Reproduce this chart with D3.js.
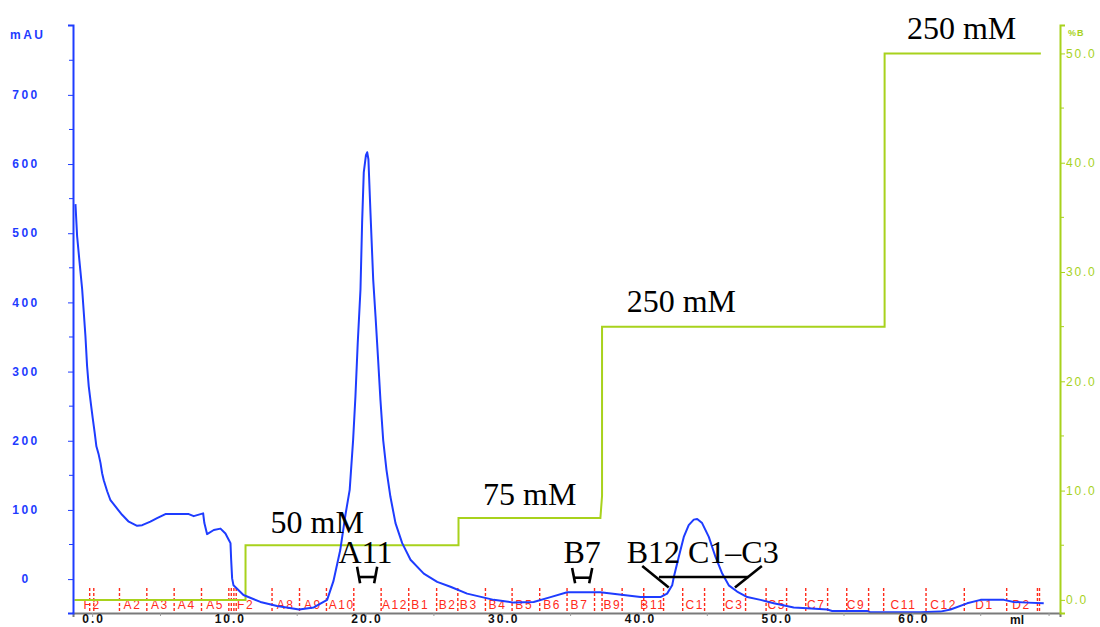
<!DOCTYPE html>
<html>
<head>
<meta charset="utf-8">
<script src="https://cdn.jsdelivr.net/npm/d3@7"></script>
<style>
  html, body { margin: 0; padding: 0; background: #ffffff; }
  svg { display: block; }
</style>
</head>
<body>
<svg id="chart" width="1100" height="627"></svg>
<script>
// UV absorbance trace (ml, mAU)
const uvTrace = [
  [-1.22, 542], [-1.10, 496], [-0.93, 460], [-0.73, 419], [-0.61, 385], [-0.49, 351],
  [-0.37, 308], [-0.25, 279], [-0.07, 250], [0.04, 233], [0.19, 211], [0.31, 192],
  [0.48, 180], [0.61, 168], [0.73, 153], [0.85, 143], [1.10, 127], [1.34, 114],
  [1.70, 105], [2.19, 93], [2.68, 83], [3.29, 77], [3.66, 78], [4.26, 83],
  [4.75, 88], [5.36, 94], [7.07, 94], [7.43, 91], [8.12, 95], [8.21, 81],
  [8.41, 65], [8.90, 71], [9.39, 73], [9.75, 66], [9.99, 57], [10.12, 52],
  [10.17, 28], [10.24, 1], [10.34, -9], [11.07, -23], [12.31, -33], [13.53, -39],
  [15.14, -44], [16.21, -41], [17.19, -30], [17.65, -3], [18.15, 42], [18.53, 93],
  [18.84, 129], [19.09, 201], [19.26, 264], [19.43, 342], [19.63, 419], [19.75, 516],
  [19.87, 588], [20.03, 613], [20.12, 617], [20.21, 607], [20.36, 530], [20.56, 433],
  [20.73, 380], [20.92, 317], [21.09, 259], [21.29, 201], [21.53, 158], [21.82, 119],
  [22.19, 81], [22.68, 52], [23.29, 28], [24.26, 8], [25.24, -4], [26.21, -11],
  [27.43, -21], [29.38, -30], [30.84, -34], [32.30, -33], [33.53, -26], [34.75, -19],
  [37.18, -19], [38.41, -22], [40.11, -26], [41.57, -26], [42.06, -21], [42.43, -9],
  [42.55, 3], [42.91, 32], [43.28, 61], [43.64, 78], [44.01, 86], [44.26, 87],
  [44.62, 81], [45.11, 61], [45.60, 32], [46.09, 8], [46.57, -9], [47.18, -18],
  [47.92, -26], [48.89, -30], [49.86, -35], [51.32, -41], [52.30, -42], [53.77, -44],
  [54.13, -46], [56.69, -46], [56.94, -48], [60.60, -48], [62.06, -47], [62.79, -44],
  [64.01, -35], [64.99, -30], [66.69, -30], [67.42, -33], [68.40, -34], [69.61, -35]
];

// Buffer B concentration (ml, %B)
const gradient = [
  [-1.3, 0], [11.22, 0], [11.22, 5], [26.8, 5], [26.8, 7.5], [37.18, 7.5],
  [37.3, 9.5], [37.3, 25], [57.97, 25], [57.97, 50], [69.4, 50]
];

// Fraction boundaries (ml)
const fractionEdges = [
  -0.18, 0.12, 2.0, 4.0, 6.0, 8.0, 10.0, 10.18, 10.37, 10.54,
  13.16, 15.17, 17.14, 19.14, 21.14, 23.16, 25.2, 26.75, 28.77, 30.72,
  32.74, 34.74, 36.75, 37.3, 38.77, 40.35, 41.8, 43.2, 44.8, 46.2,
  47.8, 49.3, 50.8, 52.2, 53.8, 55.2, 56.8, 57.9, 61.0, 63.8,
  66.9, 69.15, 69.3
];

// Fraction names and where they are printed (ml)
const fractionNames = ["F2", "A2", "A3", "A4", "A5", "F2", "A8", "A9", "A10", "A12",
  "B1", "B2", "B3", "B4", "B5", "B6", "B7", "B9", "B11", "C1", "C3",
  "C5", "C7", "C9", "C11", "C12", "D1", "D2"];
const fractionNameAt = [-0.63, 2.3, 4.3, 6.27, 8.34, 10.6, 13.5, 15.5, 17.3, 21.2,
  23.35, 25.35, 26.9, 29.0, 30.96, 33.0, 35.0, 37.4, 40.1, 43.4, 46.3,
  49.4, 52.3, 55.2, 58.4, 61.3, 64.6, 67.3];

// Axis ticks
const mAUTicks = [0, 100, 200, 300, 400, 500, 600, 700];
const mAUMinor = [50, 150, 250, 350, 450, 550, 650, 750];
const mlTicks = [0, 10, 20, 30, 40, 50, 60];
const mlMinor = [5, 15, 25, 35, 45, 55, 65, 70];
const pctTicks = [0, 10, 20, 30, 40, 50];
const pctMinor = [5, 15, 25, 35, 45];

// Salt step annotations: text, ml, %B at baseline
const stepLabels = ["50 mM", "75 mM", "250 mM", "250 mM"];
const stepLabelMl = [13.05, 28.6, 39.1, 59.6];
const stepLabelPct = [6.1, 8.7, 26.3, 51.3];

// Pooled fraction annotations: text, ml, mAU at baseline
const poolLabels = ["A11", "B7", "B12 C1\u2013C3"];
const poolLabelMl = [18.02, 34.48, 39.1];
const poolLabelMAU = [23, 23, 23];

// Bracket marks under pools: [left ml, right ml, inner inset ml, top mAU, bottom mAU, bar mAU]
const bracketH = [
  [19.38, 20.85, 0.22, 18, -6, 3],
  [35.11, 36.58, 0.22, 16, -6, 2]
];
// Wide bracket under B12 C1–C3: [outer left, inner left, inner right, outer right] ml, [top, bottom, bar] mAU
const bracketWideMl = [40.24, 42.18, 47.02, 48.99];
const bracketWideMAU = [19, -12, 3];

const blue = "#1e3cff";
const green = "#a8d21c";
const red = "#ff2a1a";
const sans = "Liberation Sans, Arial, sans-serif";

const svg = d3.select("#chart");
const x = d3.scaleLinear().domain([-1.4, 70.8]).range([73, 1060]);
const yL = d3.scaleLinear().domain([-49, 801]).range([613, 25]);
const yR = d3.scaleLinear().domain([-1.2, 52.6]).range([613, 25]);

// Fraction markers
const frac = svg.append("g");
frac.selectAll("line").data(fractionEdges).join("line")
  .attr("x1", d => x(d)).attr("x2", d => x(d))
  .attr("y1", 588).attr("y2", 613)
  .attr("stroke", red).attr("stroke-width", 1.4)
  .attr("stroke-dasharray", "3,2");
frac.selectAll("text").data(fractionNames).join("text")
  .attr("x", (d, i) => x(fractionNameAt[i]))
  .attr("y", 609)
  .attr("fill", red)
  .attr("font-family", sans)
  .attr("font-size", 12)
  .attr("letter-spacing", 1.6)
  .text(d => d);

// Gradient line
svg.append("path")
  .datum(gradient)
  .attr("fill", "none")
  .attr("stroke", green)
  .attr("stroke-width", 2)
  .attr("d", d3.line().x(d => x(d[0])).y(d => yR(d[1])));

// UV trace
svg.append("path")
  .datum(uvTrace)
  .attr("fill", "none")
  .attr("stroke", blue)
  .attr("stroke-width", 2)
  .attr("stroke-linejoin", "round")
  .attr("d", d3.line().x(d => x(d[0])).y(d => yL(d[1])));

// Bottom axis
const xAxisG = svg.append("g").attr("transform", "translate(0,613)");
xAxisG.call(d3.axisBottom(x).tickValues(mlTicks).tickSize(4).tickPadding(2)
  .tickFormat(d => d3.format(".1f")(d)));
xAxisG.select(".domain").attr("stroke", "#7a7a7a").attr("stroke-width", 2);
xAxisG.selectAll(".tick line").attr("stroke", "#9a9a9a");
xAxisG.selectAll(".tick text")
  .attr("fill", "#111").attr("font-size", 12).attr("font-weight", "bold")
  .attr("font-family", sans)
  .attr("letter-spacing", 2).attr("dy", "0.3em").attr("dx", 1);
xAxisG.selectAll(".minor").data(mlMinor).join("line")
  .attr("class", "minor")
  .attr("x1", d => x(d)).attr("x2", d => x(d))
  .attr("y1", 0).attr("y2", 3)
  .attr("stroke", "#9a9a9a");
svg.append("text")
  .attr("x", 1017).attr("y", 624)
  .attr("text-anchor", "middle")
  .attr("fill", "#111").attr("font-size", 12).attr("font-weight", "bold")
  .attr("font-family", sans)
  .text("ml");

// Left axis (mAU)
const yLG = svg.append("g").attr("transform", "translate(73,0)");
yLG.call(d3.axisLeft(yL).tickValues(mAUTicks).tickSize(5).tickFormat(""));
yLG.select(".domain").attr("stroke", blue).attr("stroke-width", 2);
yLG.selectAll(".tick line").attr("stroke", blue);
yLG.selectAll(".minor").data(mAUMinor).join("line")
  .attr("class", "minor")
  .attr("x1", -4).attr("x2", 0)
  .attr("y1", d => yL(d)).attr("y2", d => yL(d))
  .attr("stroke", blue);
svg.append("g").selectAll("text").data(mAUTicks).join("text")
  .attr("x", 26).attr("y", d => yL(d))
  .attr("dy", "0.35em")
  .attr("text-anchor", "middle")
  .attr("fill", blue).attr("font-size", 12).attr("font-weight", "bold")
  .attr("font-family", sans)
  .attr("letter-spacing", 2.5)
  .text(d => d);
svg.append("text")
  .attr("x", 10).attr("y", 39)
  .attr("fill", blue).attr("font-size", 12).attr("font-weight", "bold")
  .attr("font-family", sans)
  .attr("letter-spacing", 2.5)
  .text("mAU");

// Right axis (%B)
const yRG = svg.append("g").attr("transform", "translate(1060,0)");
yRG.call(d3.axisRight(yR).tickValues(pctTicks).tickSize(5).tickPadding(1)
  .tickFormat(d => d3.format(".1f")(d)));
yRG.select(".domain").attr("stroke", green).attr("stroke-width", 2);
yRG.selectAll(".tick line").attr("stroke", green);
yRG.selectAll(".tick text")
  .attr("fill", green).attr("font-size", 12)
  .attr("font-family", sans)
  .attr("letter-spacing", 1.8);
yRG.selectAll(".minor").data(pctMinor).join("line")
  .attr("class", "minor")
  .attr("x1", 0).attr("x2", 4)
  .attr("y1", d => yR(d)).attr("y2", d => yR(d))
  .attr("stroke", green);
svg.append("text")
  .attr("x", 1068).attr("y", 36)
  .attr("fill", green).attr("font-size", 9).attr("font-weight", "bold")
  .attr("font-family", sans)
  .attr("letter-spacing", 1)
  .text("%B");

// Salt step annotations
const serif = "Liberation Serif, 'Times New Roman', serif";
svg.append("g").selectAll("text").data(stepLabels).join("text")
  .attr("x", (d, i) => x(stepLabelMl[i]))
  .attr("y", (d, i) => yR(stepLabelPct[i]))
  .attr("font-family", serif).attr("font-size", 32).attr("fill", "#000")
  .text(d => d);

// Pool annotations
svg.append("g").selectAll("text").data(poolLabels).join("text")
  .attr("x", (d, i) => x(poolLabelMl[i]))
  .attr("y", (d, i) => yL(poolLabelMAU[i]))
  .attr("font-family", serif).attr("font-size", 32).attr("fill", "#000")
  .text(d => d);

// Bracket marks
const bracketG = svg.append("g")
  .attr("stroke", "#000").attr("stroke-width", 2.6)
  .attr("fill", "none").attr("stroke-linecap", "butt");
bracketH.forEach(b => {
  const [l, r, inset, top, bot, bar] = b;
  bracketG.append("line")
    .attr("x1", x(l)).attr("y1", yL(top)).attr("x2", x(l + inset)).attr("y2", yL(bot));
  bracketG.append("line")
    .attr("x1", x(r)).attr("y1", yL(top)).attr("x2", x(r - inset)).attr("y2", yL(bot));
  bracketG.append("line")
    .attr("x1", x(l + inset * 0.5)).attr("y1", yL(bar)).attr("x2", x(r - inset * 0.5)).attr("y2", yL(bar));
});
{
  const [ol, il, ir, or] = bracketWideMl;
  const [top, bot, bar] = bracketWideMAU;
  bracketG.append("line")
    .attr("x1", x(ol)).attr("y1", yL(top)).attr("x2", x(il)).attr("y2", yL(bot));
  bracketG.append("line")
    .attr("x1", x(or)).attr("y1", yL(top)).attr("x2", x(ir)).attr("y2", yL(bot));
  bracketG.append("line")
    .attr("x1", x(ol + (il - ol) * 0.63)).attr("y1", yL(bar))
    .attr("x2", x(or - (or - ir) * 0.5)).attr("y2", yL(bar));
}
</script>
</body>
</html>
